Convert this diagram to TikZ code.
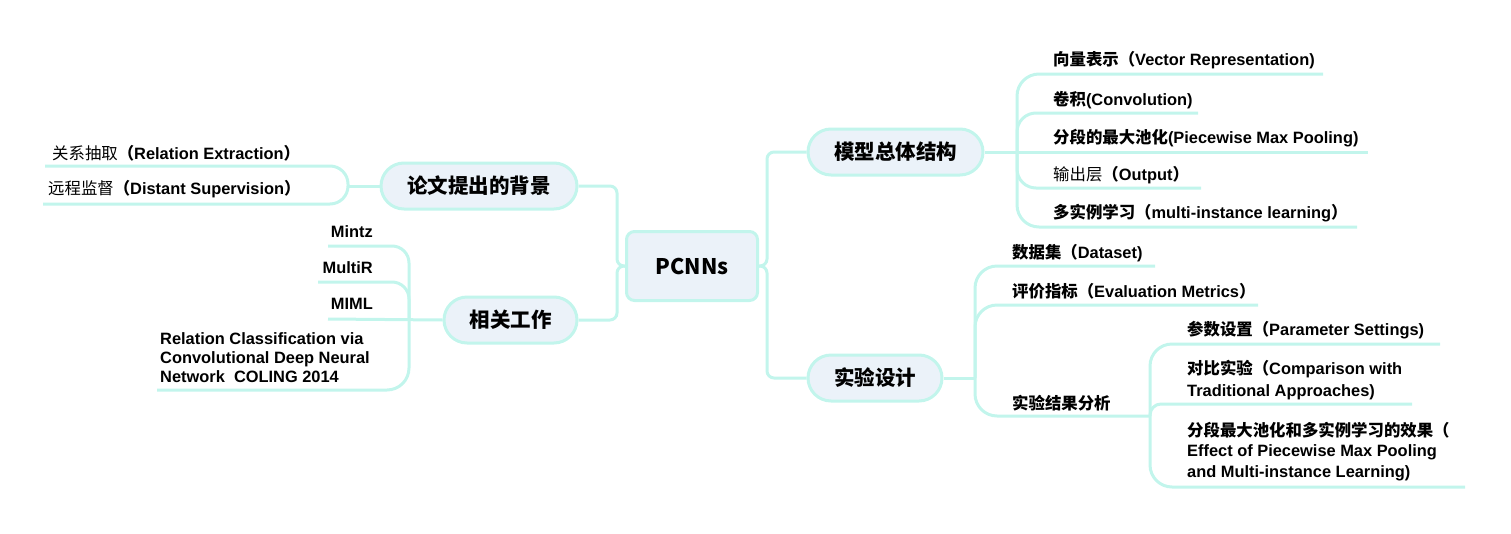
\documentclass[tikz,border=0pt]{standalone}
\usepackage{fontspec}
\setmainfont{Liberation Sans}
\newfontfamily\cjk{Noto Sans CJK SC}
\newcommand\C[1]{{\cjk #1}}
\newcommand\SG[1]{{\cjk\mdseries #1}}
\definecolor{conncol}{HTML}{C2F5EC}
\definecolor{nodefill}{HTML}{EBF2F9}
\begin{document}
\begin{tikzpicture}[x=1pt,y=-1pt,
  conn/.style={draw=conncol,line width=3},
  topic/.style={draw=conncol,line width=3,fill=nodefill,rounded corners=23,
    minimum height=46,inner xsep=0,font=\cjk\bfseries\fontsize{20.5}{24}\selectfont},
  root/.style={draw=conncol,line width=3,fill=nodefill,rounded corners=8,
    minimum width=131,minimum height=69,font=\cjk\bfseries\fontsize{21.5}{24}\selectfont},
  leaf/.style={inner sep=0,anchor=west,align=left,font=\bfseries\fontsize{16.4}{18.7}\selectfont},
  leafr/.style={inner sep=0,anchor=east,align=right,font=\bfseries\fontsize{16.4}{18.7}\selectfont}]
\useasboundingbox (0,0) rectangle (1511,533);

% central and main topics
\node[root] (p) at (692,266) {PCNNs};
\node[topic,minimum width=175] (t1) at (895.5,152) {模型总体结构};
\node[topic,minimum width=134] (t2) at (875,378) {实验设计};
\node[topic,minimum width=196] (t3) at (479,186) {论文提出的背景};
\node[topic,minimum width=133] (t4) at (510.5,320) {相关工作};

\draw[conn,rounded corners=7] (p.east) -- ++(8,0) |- (t1.west);
\draw[conn,rounded corners=7] (p.east) -- ++(8,0) |- (t2.west);
\draw[conn,rounded corners=7] (p.west) -- ++(-8,0) |- (t3.west -| t3.east);
\draw[conn,rounded corners=7] (p.west) -- ++(-8,0) |- (t4.west -| t4.east);

% ---- 模型总体结构 leaves
\coordinate (h1) at (1017,152);
\node[leaf] (a1) at (1053,60) {\C{向量表示（}Vector Representation)};
\node[leaf] (a2) at (1053,100) {\C{卷积}(Convolution)};
\node[leaf] (a3) at (1053,138) {\C{分段的最大池化}(Piecewise Max Pooling)};
\node[leaf] (a4) at (1053,175) {\C{\mdseries 输出层}\C{（}Output\C{）}};
\node[leaf] (a5) at (1053,213) {\C{多实例学习（}multi-instance learning\C{）}};
\coordinate (u1) at (1323,74);
\coordinate (u2) at (1198,113);
\coordinate (u3) at (1368,152);
\coordinate (u4) at (1201,188);
\coordinate (u5) at (1357,227);
\draw[conn] (t1.east) -- (u3);
\draw[conn,rounded corners=22] (h1) |- (u1);
\draw[conn,rounded corners=19] (h1) |- (u2);
\draw[conn,rounded corners=19] (h1) |- (u4);
\draw[conn,rounded corners=22] (h1) |- (u5);

% ---- 实验设计 leaves
\coordinate (h2) at (975,378);
\node[leaf] (b1) at (1012,253) {\C{数据集（}Dataset)};
\node[leaf] (b2) at (1012,291) {\C{评价指标（}Evaluation Metrics\C{）}};
\node[leaf] (b3) at (1012,403) {\C{实验结果分析}};
\coordinate (v1) at (1155,266);
\coordinate (v2) at (1258,305);
\coordinate (h3) at (1150,416);
\draw[conn] (t2.east) -- (h2);
\draw[conn,rounded corners=22] (h2) |- (v1);
\draw[conn,rounded corners=22] (h2) |- (v2);
\draw[conn,rounded corners=22] (h2) |- (h3);

\node[leaf] (c1) at (1187,330) {\C{参数设置（}Parameter Settings)};
\node[leaf] (c2) at (1187,380) {\C{对比实验（}Comparison with\\[3pt]Traditional Approaches)};
\node[leaf] (c3) at (1187,451.5) {\C{分段最大池化和多实例学习的效果（}\\[2pt]Effect of Piecewise Max Pooling\\[2pt]and Multi-instance Learning)};
\coordinate (w1) at (1440,344);
\coordinate (w2) at (1412,404);
\coordinate (w3) at (1465,487);
\draw[conn,rounded corners=22] (h3) |- (w1);
\draw[conn,rounded corners=11] (h3) |- (w2);
\draw[conn,rounded corners=22] (h3) |- (w3);

% ---- 论文提出的背景 leaves
\coordinate (h4) at (348,186);
\node[leaf] (d1) at (52,153) {\SG{关系抽取}\C{（}Relation Extraction\C{）}};
\node[leaf] (d2) at (48,189) {\SG{远程监督}\C{（}Distant Supervision\C{）}};
\coordinate (x1) at (45,166);
\coordinate (x2) at (43,204);
\draw[conn] (t3.west) -- (h4);
\draw[conn,rounded corners=18] (h4) |- (x1);
\draw[conn,rounded corners=18] (h4) |- (x2);

% ---- 相关工作 leaves
\coordinate (h5) at (409,319);
\node[leafr] (e1) at (373,232) {Mintz};
\node[leafr] (e2) at (373,268) {MultiR};
\node[leafr] (e3) at (373,304) {MIML};
\node[leaf] (e4) at (160,357.5) {Relation Classification via\\Convolutional Deep Neural\\Network\ \ COLING 2014};
\coordinate (y1) at (328,246);
\coordinate (y2) at (318,282);
\coordinate (y3) at (328,319);
\coordinate (y4) at (157,390);
\draw[conn] (t4.west) -- (y3);
\draw[conn,rounded corners=17] (h5) |- (y1);
\draw[conn,rounded corners=17] (h5) |- (y2);
\draw[conn,rounded corners=22] (h5) |- (y4);
\end{tikzpicture}
\end{document}
